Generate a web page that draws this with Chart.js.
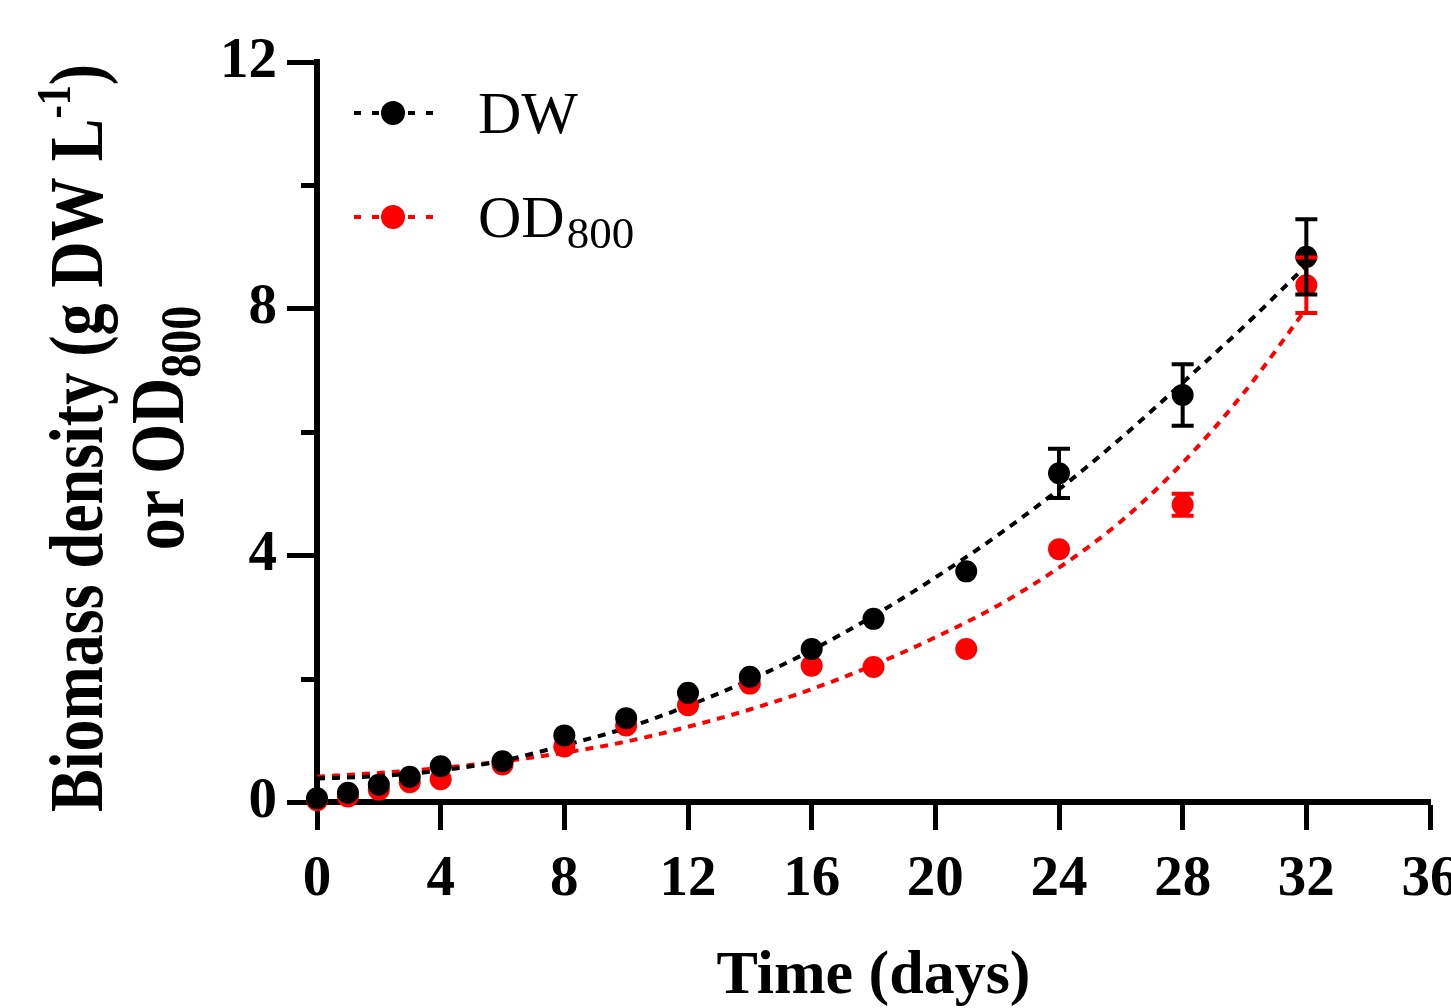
<!DOCTYPE html>
<html>
<head>
<meta charset="utf-8">
<script src="https://cdn.jsdelivr.net/npm/chart.js@4.4.1/dist/chart.umd.min.js"></script>
<style>
  html, body { margin: 0; padding: 0; background: #fff; }
  #wrap { width: 1451px; height: 1008px; position: relative; }
  canvas { display: block; }
</style>
</head>
<body>
<div id="wrap"><canvas id="c" width="1451" height="1008"></canvas></div>
<script>
// ---------- data ----------
const days      = [0, 1, 2, 3, 4, 6, 8, 10, 12, 14, 16, 18, 21, 24, 28, 32];
const dwValues  = [0.06, 0.15, 0.28, 0.41, 0.58, 0.66, 1.08, 1.36, 1.77, 2.03, 2.48, 2.97, 3.74, 5.33, 6.60, 8.84];
const dwErrors  = [0, 0, 0, 0, 0, 0, 0, 0, 0, 0, 0, 0, 0, 0.40, 0.50, 0.61];
const odValues  = [0.03, 0.09, 0.20, 0.32, 0.37, 0.61, 0.90, 1.24, 1.57, 1.92, 2.21, 2.19, 2.48, 4.10, 4.82, 8.38];
const odErrors  = [0, 0, 0, 0, 0, 0, 0, 0, 0, 0, 0, 0, 0, 0, 0.18, 0.45];
// fitted (dotted) curves, every 2 days
const fitDays   = [0, 2, 4, 6, 8, 10, 12, 14, 16, 18, 20, 22, 24, 26, 28, 30, 32];
const dwFit     = [0.38, 0.42, 0.51, 0.67, 0.92, 1.20, 1.56, 1.98, 2.46, 3.02, 3.64, 4.32, 5.07, 5.90, 6.80, 7.72, 8.70];
const odFit     = [0.41, 0.47, 0.55, 0.66, 0.80, 0.98, 1.22, 1.50, 1.83, 2.22, 2.67, 3.18, 3.80, 4.55, 5.50, 6.65, 8.00];
const xTicks    = [0, 4, 8, 12, 16, 20, 24, 28, 32, 36];
const yTicks    = [0, 4, 8, 12];
const yMinor    = [2, 6, 10];
const seriesLabels = ['DW', 'OD'];
const seriesSub    = ['', '800'];
const xTitle    = 'Time (days)';
const yTitle1   = ['Biomass density (g DW L', '-1', ')'];
const yTitle2   = ['or OD', '800'];
// ------------------------------------------------

const BLACK = '#000000', RED = '#ff0000';
const SERIF = '"Liberation Serif", "Times New Roman", serif';

const pts = (xs, ys) => xs.map((x, i) => ({x: x, y: ys[i]}));

const decor = {
  id: 'decor',
  afterDatasetsDraw(chart) {
    const ctx = chart.ctx, xs = chart.scales.x, ys = chart.scales.y;
    const drawBars = (vals, errs, color) => {
      ctx.save();
      ctx.strokeStyle = color; ctx.lineWidth = 4; ctx.lineCap = 'butt';
      vals.forEach((v, i) => {
        const e = errs[i]; if (!e) return;
        const px = xs.getPixelForValue(days[i]);
        const y1 = ys.getPixelForValue(v + e), y2 = ys.getPixelForValue(v - e);
        ctx.beginPath();
        ctx.moveTo(px, y1); ctx.lineTo(px, y2);
        ctx.moveTo(px - 11, y1); ctx.lineTo(px + 11, y1);
        ctx.moveTo(px - 11, y2); ctx.lineTo(px + 11, y2);
        ctx.stroke();
      });
      ctx.restore();
    };
    drawBars(odValues, odErrors, RED);
    drawBars(dwValues, dwErrors, BLACK);
  },
  afterDraw(chart) {
    const ctx = chart.ctx, xs = chart.scales.x, ys = chart.scales.y;
    const left = chart.chartArea.left;
    ctx.save();
    // minor y ticks
    ctx.strokeStyle = BLACK; ctx.lineWidth = 5;
    yMinor.forEach(v => {
      const py = Math.round(ys.getPixelForValue(v)) + 0.5;
      ctx.beginPath(); ctx.moveTo(left - 16, py); ctx.lineTo(left, py); ctx.stroke();
    });
    ctx.fillStyle = BLACK;
    // x title
    ctx.font = 'bold 62px ' + SERIF;
    ctx.textAlign = 'center'; ctx.textBaseline = 'alphabetic';
    ctx.fillText(xTitle, (chart.chartArea.left + chart.chartArea.right) / 2, 993);

    // rich text helper (segments: [text, scale, shift])
    const drawRich = (segs, size, cx, cy, rotate, stretch) => {
      ctx.save();
      ctx.translate(cx, cy);
      if (rotate) ctx.rotate(-Math.PI / 2);
      ctx.scale(1, stretch || 1);
      let total = 0;
      const widths = segs.map(s => {
        ctx.font = 'bold ' + Math.round(size * s[1]) + 'px ' + SERIF;
        const w = ctx.measureText(s[0]).width; total += w; return w;
      });
      let x = -total / 2;
      ctx.textAlign = 'left'; ctx.textBaseline = 'alphabetic';
      segs.forEach((s, i) => {
        ctx.font = 'bold ' + Math.round(size * s[1]) + 'px ' + SERIF;
        ctx.fillText(s[0], x, s[2] * size);
        x += widths[i];
      });
      ctx.restore();
    };
    // y title, two lines
    drawRich([[yTitle1[0], 1, 0], [yTitle1[1], 0.62, -0.42], [yTitle1[2], 1, 0]], 64, 102, 438, true, 1.2);
    drawRich([[yTitle2[0], 1, 0], [yTitle2[1], 0.75, 0.22]], 64, 183, 428, true, 1.2);

    // legend
    const legendY = [113, 217];
    const colors = [BLACK, RED];
    legendY.forEach((ly, i) => {
      ctx.save();
      ctx.strokeStyle = colors[i]; ctx.lineWidth = 4; ctx.setLineDash([7, 11]);
      ctx.beginPath(); ctx.moveTo(354, ly); ctx.lineTo(434, ly); ctx.stroke();
      ctx.setLineDash([]);
      ctx.fillStyle = colors[i];
      ctx.beginPath(); ctx.arc(393, ly, 12, 0, Math.PI * 2); ctx.fill();
      ctx.restore();
      ctx.fillStyle = BLACK;
      ctx.textAlign = 'left'; ctx.textBaseline = 'alphabetic';
      ctx.font = '60px ' + SERIF;
      ctx.fillText(seriesLabels[i], 478, ly + 20);
      if (seriesSub[i]) {
        const w = ctx.measureText(seriesLabels[i]).width;
        ctx.font = '45px ' + SERIF;
        ctx.fillText(seriesSub[i], 478 + w + 2, ly + 31);
      }
    });
    ctx.restore();
  }
};

const tickFont = {family: SERIF, weight: 'bold', size: 57};

new Chart(document.getElementById('c'), {
  type: 'scatter',
  data: {
    datasets: [
      { label: 'DW', data: pts(days, dwValues), backgroundColor: BLACK, borderColor: BLACK,
        pointRadius: 11, pointHoverRadius: 11, pointBorderWidth: 0, showLine: false, order: 0, clip: false },
      { label: 'OD800', data: pts(days, odValues), backgroundColor: RED, borderColor: RED,
        pointRadius: 11, pointHoverRadius: 11, pointBorderWidth: 0, showLine: false, order: 1, clip: false },
      { label: 'DW fit', data: pts(fitDays, dwFit), borderColor: BLACK, backgroundColor: BLACK,
        showLine: true, pointRadius: 0, borderWidth: 4, borderDash: [8, 7], cubicInterpolationMode: 'monotone', order: 2, clip: false },
      { label: 'OD800 fit', data: pts(fitDays, odFit), borderColor: RED, backgroundColor: RED,
        showLine: true, pointRadius: 0, borderWidth: 4, borderDash: [8, 7], cubicInterpolationMode: 'monotone', order: 3, clip: false }
    ]
  },
  options: {
    responsive: false,
    animation: false,
    devicePixelRatio: 1,
    layout: { padding: { top: 62, right: 21, left: 0, bottom: 0 } },
    plugins: { legend: { display: false }, tooltip: { enabled: false }, title: { display: false } },
    scales: {
      x: {
        type: 'linear', min: 0, max: 36,
        afterBuildTicks: s => { s.ticks = xTicks.map(v => ({value: v})); },
        ticks: { font: tickFont, color: BLACK, padding: 16, maxRotation: 0, autoSkip: false },
        grid: { drawOnChartArea: false, drawTicks: true, tickLength: 28, tickWidth: 5, tickColor: BLACK },
        border: { display: true, width: 6, color: BLACK },
        afterFit: s => { s.height = 206; s.paddingLeft = 0; s.paddingRight = 0; }
      },
      y: {
        type: 'linear', min: 0, max: 12,
        afterBuildTicks: s => { s.ticks = yTicks.map(v => ({value: v})); },
        ticks: { font: tickFont, color: BLACK, padding: 10, autoSkip: false },
        grid: { drawOnChartArea: false, drawTicks: true, tickLength: 30, tickWidth: 5, tickColor: BLACK },
        border: { display: true, width: 6, color: BLACK },
        afterFit: s => { s.width = 317; s.paddingTop = 0; s.paddingBottom = 0; }
      }
    }
  },
  plugins: [decor]
});
</script>
</body>
</html>
